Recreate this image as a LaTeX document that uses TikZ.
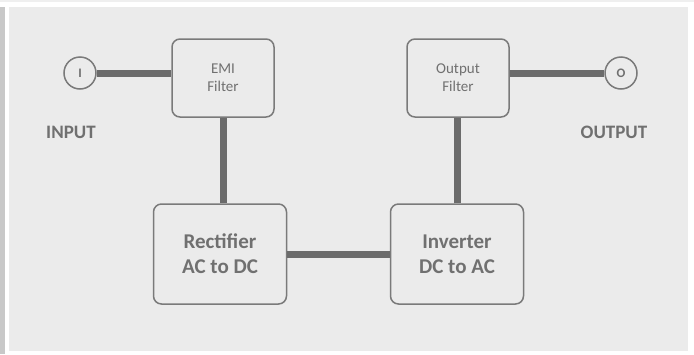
\documentclass[tikz,border=0pt]{standalone}
\usepackage{fontspec}
\setmainfont{Carlito}
\usepackage{tikz}
\usetikzlibrary{positioning}

\definecolor{bggray}{HTML}{EBEBEB}
\definecolor{stripgray}{HTML}{C8C8C8}
\definecolor{linegray}{HTML}{6B6B6B}
\definecolor{boxgray}{HTML}{7A7A7A}
\definecolor{textgray}{HTML}{707070}

\begin{document}
\begin{tikzpicture}[x=1pt, y=-1pt,
	block/.style={draw=boxgray, line width=1.5pt, rounded corners=8pt, fill=bggray, text=textgray, align=center, inner sep=0pt},
	smallblock/.style={block, minimum width=102pt, minimum height=78pt, font=\fontsize{15}{18}\selectfont},
	bigblock/.style={block, minimum width=133pt, minimum height=100pt, font=\fontsize{21}{25}\selectfont\bfseries},
	port/.style={circle, draw=boxgray, line width=1.5pt, minimum size=32pt, inner sep=0pt, text=textgray, font=\fontsize{13}{15}\selectfont\bfseries},
	caption/.style={text=textgray, font=\fontsize{19}{22}\selectfont\bfseries},
	wire/.style={draw=linegray, line width=7pt}]

	% Background and frame
	\useasboundingbox (0,0) rectangle (694,354);
	\fill[bggray!80] (0,0) rectangle (694,2);
	\fill[stripgray] (0,7) rectangle (5,354);
	\fill[bggray] (9,7) rectangle (688,351);

	% Ports
	\node[port] (in) at (80,73) {I};
	\node[port] (out) at (621,73) {O};
	\node[caption] (inlabel) at (71,132) {INPUT};
	\node[caption] (outlabel) at (614,132) {OUTPUT};

	% Blocks
	\node[smallblock] (emi) at (223,78) {EMI\\Filter};
	\node[bigblock] (rect) at (220,254) {Rectifier\\AC to DC};
	\node[bigblock] (inv) at (457,254) {Inverter\\DC to AC};
	\node[smallblock] (ofilt) at (458,78) {Output\\Filter};

	% Connections
	\draw[wire] (in.east) -- (in.east -| emi.west);
	\draw[wire] (emi.south) -- (emi.south |- rect.north);
	\draw[wire] (rect.east) -- (inv.west);
	\draw[wire] (inv.north) -- (inv.north |- ofilt.south);
	\draw[wire] (ofilt.east |- out.west) -- (out.west);

\end{tikzpicture}
\end{document}
